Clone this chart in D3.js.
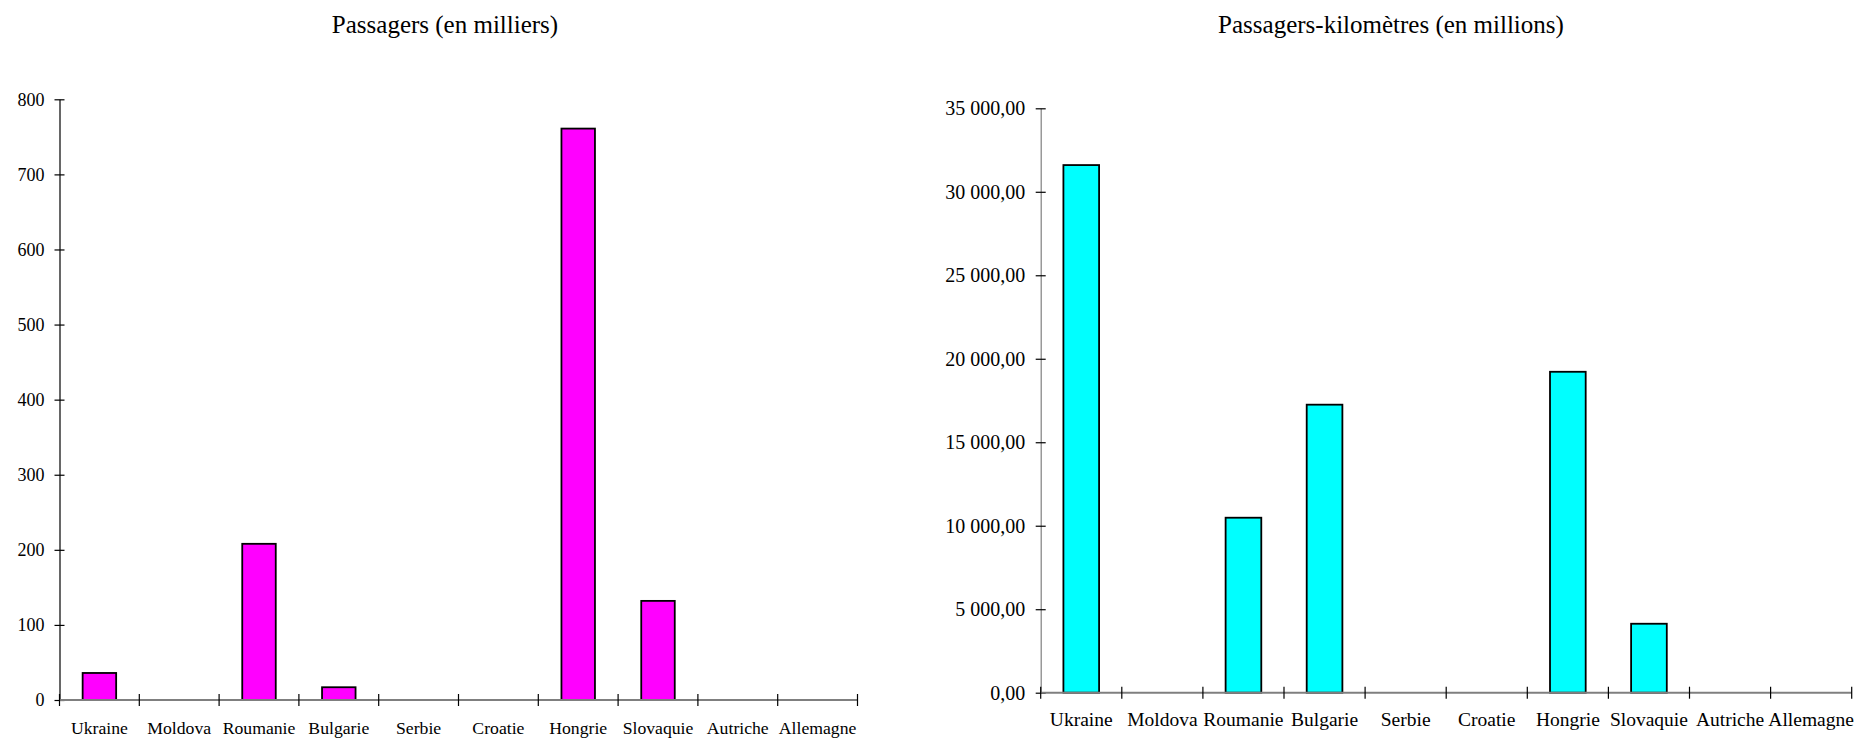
<!DOCTYPE html>
<html>
<head>
<meta charset="utf-8">
<script src="https://cdn.jsdelivr.net/npm/d3@7"></script>
<style>
  html, body { margin: 0; padding: 0; background: #fff; }
  svg { display: block; }
  text { font-family: "Liberation Serif", "Times New Roman", serif; fill: #000; }
</style>
</head>
<body>
<svg id="chart" width="1866" height="739"></svg>
<script>
// ---- Data ----
const categories = ["Ukraine", "Moldova", "Roumanie", "Bulgarie", "Serbie", "Croatie", "Hongrie", "Slovaquie", "Autriche", "Allemagne"];

const passagersTitle = "Passagers (en milliers)";
const passagersValues = [36, null, 208, 17, null, null, 761, 132, null, null];
const passagersTicks = [0, 100, 200, 300, 400, 500, 600, 700, 800];
const passagersTickLabels = ["0", "100", "200", "300", "400", "500", "600", "700", "800"];

const pkmTitle = "Passagers-kilomètres (en millions)";
const pkmValues = [31600, null, 10480, 17250, null, null, 19220, 4130, null, null];
const pkmTicks = [0, 5000, 10000, 15000, 20000, 25000, 30000, 35000];
const pkmTickLabels = ["0,00", "5 000,00", "10 000,00", "15 000,00", "20 000,00", "25 000,00", "30 000,00", "35 000,00"];

// ---- Drawing ----
const svg = d3.select("#chart");

function drawPanel(cfg) {
  const g = svg.append("g");

  const x = d3.scaleBand()
    .domain(categories)
    .range([cfg.left, cfg.right])
    .paddingInner(cfg.pad)
    .paddingOuter(cfg.pad / 2)
    .align(0.5);

  const y = d3.scaleLinear()
    .domain([cfg.ticks[0], cfg.ticks[cfg.ticks.length - 1]])
    .range([cfg.bottom, cfg.top]);

  // title
  g.append("text")
    .attr("x", cfg.titleX)
    .attr("y", cfg.titleY)
    .attr("text-anchor", "middle")
    .style("font-size", "25px")
    .text(cfg.title);

  // y axis
  const yAxis = d3.axisLeft(y)
    .tickValues(cfg.ticks)
    .tickFormat((d, i) => cfg.tickLabels[i])
    .tickSizeOuter(0)
    .tickSizeInner(5)
    .tickPadding(10);
  const ya = g.append("g")
    .attr("transform", `translate(${cfg.left},0)`)
    .call(yAxis);
  ya.select(".domain").attr("stroke", cfg.yAxisColor).attr("stroke-width", 1.2);
  ya.selectAll(".tick line").attr("x1", -5).attr("x2", 5).attr("stroke", "#000").attr("stroke-width", 1.2);
  ya.selectAll(".tick text")
    .style("font-size", cfg.yFont + "px")
    .style("font-family", '"Liberation Serif", "Times New Roman", serif')
    .attr("fill", "#000")
    .attr("x", -(cfg.yLabelGap));

  // bars
  const barData = categories.map((c, i) => ({ c, v: cfg.values[i] })).filter(d => d.v !== null);
  g.selectAll("rect.bar")
    .data(barData)
    .join("rect")
    .attr("class", "bar")
    .attr("x", d => x(d.c))
    .attr("width", x.bandwidth())
    .attr("y", d => y(d.v))
    .attr("height", d => y(0) - y(d.v))
    .attr("fill", cfg.color)
    .attr("stroke", "#000")
    .attr("stroke-width", 1.8);

  // x axis line
  g.append("line")
    .attr("x1", cfg.left).attr("x2", cfg.right)
    .attr("y1", y(0)).attr("y2", y(0))
    .attr("stroke", "#7f7f7f")
    .attr("stroke-width", 2);

  // category boundary ticks
  const step = x.step();
  const bounds = d3.range(categories.length + 1).map(i => x.range()[0] + i * step);
  g.selectAll("line.xtick")
    .data(bounds)
    .join("line")
    .attr("class", "xtick")
    .attr("x1", d => d).attr("x2", d => d)
    .attr("y1", y(0) - 6).attr("y2", y(0) + 6)
    .attr("stroke", "#000")
    .attr("stroke-width", 1.2);

  // category labels
  g.selectAll("text.xlab")
    .data(categories)
    .join("text")
    .attr("class", "xlab")
    .attr("x", d => x(d) + x.bandwidth() / 2)
    .attr("y", cfg.labelY)
    .attr("text-anchor", "middle")
    .style("font-size", cfg.xFont + "px")
    .text(d => d);
}

drawPanel({
  title: passagersTitle, values: passagersValues, ticks: passagersTicks, tickLabels: passagersTickLabels,
  left: 59.5, right: 857.5, top: 99.3, bottom: 700, pad: 0.58,
  titleX: 445, titleY: 32.5, labelY: 734, xFont: 17.7, yFont: 18, yLabelGap: 15,
  color: "#ff00ff", yAxisColor: "#000"
});

drawPanel({
  title: pkmTitle, values: pkmValues, ticks: pkmTicks, tickLabels: pkmTickLabels,
  left: 1040.7, right: 1851.7, top: 108.3, bottom: 692.7, pad: 0.56,
  titleX: 1391, titleY: 32.7, labelY: 725.7, xFont: 19.5, yFont: 20, yLabelGap: 15.5,
  color: "#00ffff", yAxisColor: "#7f7f7f"
});
</script>
</body>
</html>
